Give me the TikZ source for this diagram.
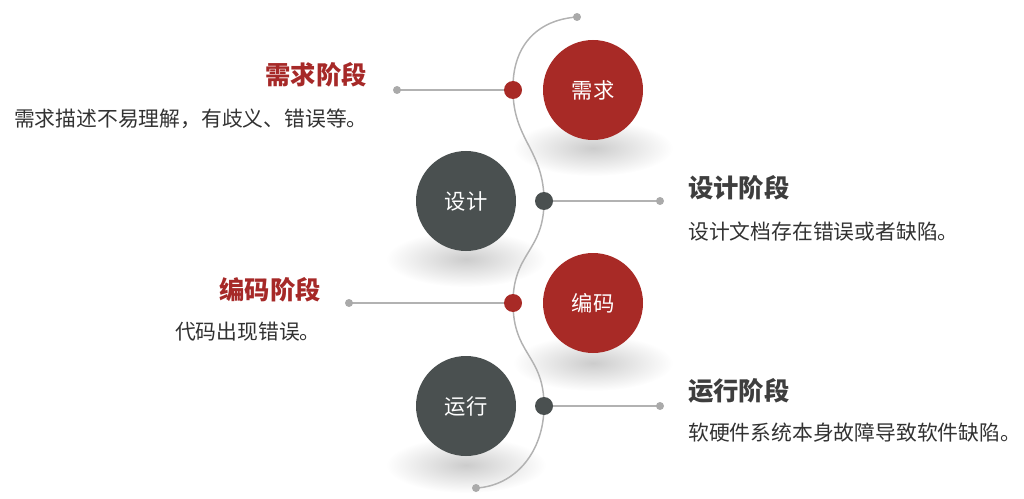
\documentclass[tikz,border=0pt]{standalone}
\usepackage{fontspec}
\setmainfont{Noto Sans CJK SC}
\definecolor{stagered}{RGB}{168,42,38}
\definecolor{stagedark}{RGB}{74,80,80}
\definecolor{trackgray}{RGB}{178,178,178}
\definecolor{dotgray}{RGB}{170,170,170}
\definecolor{titlered}{RGB}{166,41,40}
\definecolor{titledark}{RGB}{62,62,62}
\definecolor{desctext}{RGB}{50,50,50}
\begin{document}
\begin{tikzpicture}
	[
	x = {(0.75pt, 0pt)},
	y = {(0pt, -0.75pt)},
	track/.style = {color = trackgray, line width = 1.1pt},
	bigred/.style = {circle, fill = stagered, minimum size = 75pt, inner sep = 0pt, text = white, font = \fontsize{16}{18}\selectfont},
	bigdark/.style = {circle, fill = stagedark, minimum size = 75pt, inner sep = 0pt, text = white, font = \fontsize{16}{18}\selectfont},
	jointred/.style = {circle, fill = stagered, minimum size = 13.5pt, inner sep = 0pt},
	jointdark/.style = {circle, fill = stagedark, minimum size = 13.5pt, inner sep = 0pt},
	enddot/.style = {circle, fill = dotgray, minimum size = 6pt, inner sep = 0pt},
	stagered title/.style = {inner sep = 0pt, text = titlered, font = \fontsize{19}{22}\selectfont\bfseries},
	stagedark title/.style = {inner sep = 0pt, text = titledark, font = \fontsize{19}{22}\selectfont\bfseries},
	desc/.style = {inner sep = 0pt, text = desctext, font = \fontsize{15.6}{18}\selectfont}]
	
	\useasboundingbox (0,0) rectangle (1024,499);
	
	%% Drawing the shadows
	
	\shade[inner color = black!20, outer color = white] (593,148) ellipse [x radius = 80, y radius = 28];
	\shade[inner color = black!20, outer color = white] (466,259) ellipse [x radius = 80, y radius = 28];
	\shade[inner color = black!20, outer color = white] (593,363) ellipse [x radius = 80, y radius = 28];
	\shade[inner color = black!20, outer color = white] (466,465) ellipse [x radius = 80, y radius = 28];
	
	%% Nodes on the track
	
	\coordinate (e0) at (577,17);
	\coordinate (j1) at (513,90);
	\coordinate (j2) at (544,201);
	\coordinate (j3) at (513,303);
	\coordinate (j4) at (544,406);
	\coordinate (e5) at (476,488);
	
	\coordinate (l1) at (397,90);
	\coordinate (l2) at (660,201);
	\coordinate (l3) at (349,303);
	\coordinate (l4) at (660,406);
	
	\draw[track] (e0) .. controls (536,20) and (512,47) .. (j1)
		.. controls (513,140) and (544,150) .. (j2)
		.. controls (544,252) and (513,252) .. (j3)
		.. controls (513,355) and (544,355) .. (j4)
		.. controls (544,452) and (515,486) .. (e5);
	
	\draw[track] (l1) -- (j1);
	\draw[track] (j2) -- (l2);
	\draw[track] (l3) -- (j3);
	\draw[track] (j4) -- (l4);
	
	%% Drawing the dots
	
	\node[enddot] (d0) at (e0) {};
	\node[enddot] (d5) at (e5) {};
	\node[enddot] (m1) at (l1) {};
	\node[enddot] (m2) at (l2) {};
	\node[enddot] (m3) at (l3) {};
	\node[enddot] (m4) at (l4) {};
	
	\node[jointred] (k1) at (j1) {};
	\node[jointdark] (k2) at (j2) {};
	\node[jointred] (k3) at (j3) {};
	\node[jointdark] (k4) at (j4) {};
	
	%% Drawing the stages
	
	\node[bigred] (xuqiu) at (593,90) {需求};
	\node[bigdark] (sheji) at (466,201) {设计};
	\node[bigred] (bianma) at (593,303) {编码};
	\node[bigdark] (yunxing) at (466,406) {运行};
	
	%% Texts
	
	\node[stagered title, anchor = east] (t1) at (367,75) {需求阶段};
	\node[desc, anchor = east] (s1) at (368,119) {需求描述不易理解，有歧义、错误等。};
	
	\node[stagedark title, anchor = west] (t2) at (688,188) {设计阶段};
	\node[desc, anchor = west] (s2) at (688,232) {设计文档存在错误或者缺陷。};
	
	\node[stagered title, anchor = east] (t3) at (321,290) {编码阶段};
	\node[desc, anchor = east] (s3) at (321,332) {代码出现错误。};
	
	\node[stagedark title, anchor = west] (t4) at (688,391) {运行阶段};
	\node[desc, anchor = west] (s4) at (688,433) {软硬件系统本身故障导致软件缺陷。};
\end{tikzpicture}
\end{document}
